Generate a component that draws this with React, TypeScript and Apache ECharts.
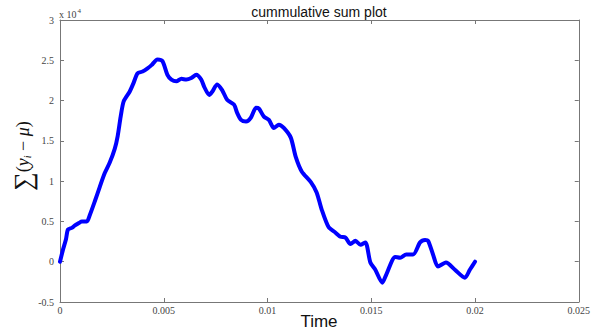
import React, { useEffect, useRef } from "react";
import * as echarts from "echarts";

// time (s)
const timeValues = [
  0, 0.000144, 0.000288, 0.000384, 0.000575, 0.000719, 0.000911, 0.001055, 0.001294,
  0.001438, 0.001678, 0.001918, 0.002157, 0.002397, 0.002637, 0.00278, 0.002924,
  0.003068, 0.003356, 0.003547, 0.003739, 0.003979, 0.004219, 0.00441, 0.004698,
  0.004938, 0.005177, 0.005369, 0.005609, 0.005849, 0.006088, 0.006328, 0.006568,
  0.006807, 0.006951, 0.007191, 0.007335, 0.007574, 0.007814, 0.008054, 0.008389,
  0.008533, 0.008725, 0.008965, 0.009204, 0.009444, 0.009588, 0.009827, 0.010067,
  0.010307, 0.010547, 0.010786, 0.011122, 0.011361, 0.011649, 0.012081, 0.012368,
  0.012608, 0.012943, 0.013279, 0.013519, 0.013758, 0.013998, 0.014238, 0.014477,
  0.014717, 0.014957, 0.015197, 0.015532, 0.015724, 0.016155, 0.016395, 0.016683,
  0.017018, 0.017354, 0.017593, 0.017737, 0.017977, 0.018217, 0.0186, 0.019032,
  0.019511, 0.019751, 0.02,
];

// cumulative sum of (y_i - mu)
const cumSumValues = [
  0, 1500, 2800, 4000, 4200, 4500, 4800, 5000, 5000,
  5800, 7500, 9300, 11000, 12300, 14000, 15600, 18000,
  19900, 21100, 22200, 23400, 23600, 24000, 24400, 25100,
  24900, 23200, 22600, 22400, 22700, 22600, 22800, 23200,
  22600, 21700, 20700, 21100, 22000, 21300, 20100, 19500,
  18500, 17600, 17400, 17900, 19100, 19000, 18000, 17600,
  16600, 17000, 16600, 15400, 13000, 11200, 9900, 8600,
  6500, 4300, 3600, 3100, 3000, 2200, 2600, 2100,
  2400, -100, -1000, -2600, -1600, 600, 500, 900,
  900, 2400, 2700, 2600, 900, -600, -100, -1000,
  -2000, -1000, 0,
];

const xTicks = { min: 0, max: 0.025, interval: 0.005 };
const yTicks = { min: -5000, max: 30000, interval: 5000 };

const titleText = "cummulative sum plot";
const xLabelText = "Time";

export default function App() {
  const ref = useRef<HTMLDivElement>(null);

  useEffect(() => {
    if (!ref.current) return;
    const chart = echarts.init(ref.current, undefined, { renderer: "svg" });
    const data = timeValues.map((t, i) => [t, cumSumValues[i]]);
    const axisColor = "#777";
    const labelFont = "Liberation Serif";
    const fmtX = (v: number) => parseFloat(v.toFixed(4)).toString();
    const fmtY = (v: number) => parseFloat((v / 1e4).toFixed(2)).toString();
    const line = { show: true, onZero: false, lineStyle: { color: axisColor, width: 1 } };
    const tick = { show: true, inside: true, length: 4, lineStyle: { color: axisColor } };

    chart.setOption({
      animation: false,
      backgroundColor: "#fff",
      grid: { left: 60, right: 11, top: 20, bottom: 29, containLabel: false },
      xAxis: [
        {
          type: "value",
          position: "bottom",
          ...xTicks,
          axisLine: line,
          axisTick: tick,
          splitLine: { show: false },
          axisLabel: {
            formatter: fmtX,
            fontFamily: labelFont,
            fontSize: 10,
            color: "#444",
            margin: 3,
            showMinLabel: true,
            showMaxLabel: true,
          },
        },
        {
          type: "value",
          position: "top",
          ...xTicks,
          axisLine: line,
          axisTick: tick,
          splitLine: { show: false },
          axisLabel: { show: false },
        },
      ],
      yAxis: [
        {
          type: "value",
          position: "left",
          ...yTicks,
          axisLine: line,
          axisTick: tick,
          splitLine: { show: false },
          axisLabel: {
            formatter: fmtY,
            fontFamily: labelFont,
            fontSize: 10,
            color: "#444",
            margin: 6,
            showMinLabel: true,
            showMaxLabel: true,
          },
        },
        {
          type: "value",
          position: "right",
          ...yTicks,
          axisLine: line,
          axisTick: tick,
          splitLine: { show: false },
          axisLabel: { show: false },
        },
      ],
      series: [
        {
          type: "line",
          xAxisIndex: 0,
          yAxisIndex: 0,
          data,
          showSymbol: false,
          symbol: "none",
          smooth: 0.25,
          lineStyle: { color: "#0000ff", width: 4, join: "round", cap: "round" },
        },
      ],
      graphic: [
        {
          type: "text",
          x: 319,
          y: 12,
          style: {
            text: titleText,
            font: "14px 'Liberation Sans', Arial, sans-serif",
            fill: "#111",
            align: "center",
            verticalAlign: "middle",
          },
        },
        {
          type: "text",
          x: 319,
          y: 321,
          style: {
            text: xLabelText,
            font: "17px 'Liberation Sans', Arial, sans-serif",
            fill: "#111",
            align: "center",
            verticalAlign: "middle",
          },
        },
        {
          type: "text",
          x: 59,
          y: 14,
          style: {
            text: "{b|x 10}{s|4}",
            fill: "#444",
            align: "left",
            verticalAlign: "middle",
            rich: {
              b: { fontFamily: labelFont, fontSize: 10, fill: "#444" },
              s: { fontFamily: labelFont, fontSize: 7, fill: "#444", verticalAlign: "top", padding: [0, 0, 6, 1] },
            },
          },
        },
        {
          type: "text",
          x: 23,
          y: 156,
          rotation: Math.PI / 2,
          style: {
            text: "{sum|∑}{n|(}{it|y}{sub|i}{n| − }{it|μ}{n|)}",
            align: "center",
            verticalAlign: "middle",
            fill: "#111",
            rich: {
              sum: { fontFamily: labelFont, fontSize: 26, fill: "#111" },
              n: { fontFamily: labelFont, fontSize: 18, fill: "#111" },
              it: { fontFamily: labelFont, fontSize: 18, fontStyle: "italic", fill: "#111" },
              sub: { fontFamily: labelFont, fontSize: 10, fontStyle: "italic", fill: "#111", padding: [8, 0, 0, 0] },
            },
          },
        },
      ],
    });

    return () => chart.dispose();
  }, []);

  return (
    <div
      ref={ref}
      style={{ position: "absolute", left: 0, top: 0, width: 593, height: 331 }}
    />
  );
}
